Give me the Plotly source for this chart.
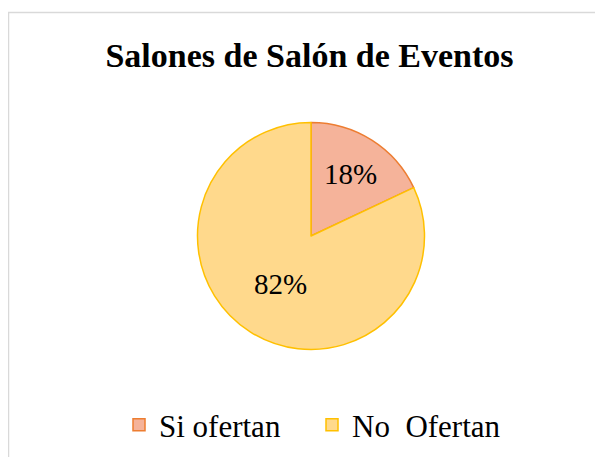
import plotly.graph_objects as go

title_text = "Salones de Salón de Eventos"
categories = ["Si ofertan", "No  Ofertan"]
values = [18, 82]
fill_colors = ["#F5B39A", "#FFD98C"]
line_colors = ["#ED7D31", "#FFC000"]

SERIF = "Times New Roman, Liberation Serif, serif"
W, H = 603, 457
OX, OY = 8, 8  # page offset of the plot div (body margin)
cx, cy, r = 311 - OX, 236 - OY, 113.5


def px(x):
    return (x - OX) / W


def py(y):
    return 1 - (y - OY) / H


fig = go.Figure(go.Pie(
    labels=categories,
    values=values,
    sort=False,
    direction="clockwise",
    rotation=0,
    marker=dict(colors=fill_colors, line=dict(color=line_colors, width=1.5)),
    textinfo="percent",
    texttemplate="%{percent:.0%}",
    textposition="inside",
    insidetextorientation="horizontal",
    textfont=dict(family=SERIF, size=29, color="black"),
    domain=dict(x=[(cx - r) / W, (cx + r) / W], y=[(H - cy - r) / H, (H - cy + r) / H]),
    hoverinfo="label+percent",
))

fig.update_layout(
    width=W, height=H,
    margin=dict(l=0, r=0, t=0, b=0),
    paper_bgcolor="white",
    plot_bgcolor="white",
    font=dict(family=SERIF, color="black"),
    title=dict(text="<b>" + title_text + "</b>", x=px(309.5), xanchor="center",
               y=py(55), yanchor="middle",
               font=dict(family=SERIF, size=34, color="black")),
    legend=dict(orientation="h", x=px(119), xanchor="left", y=py(425), yanchor="middle",
                font=dict(family=SERIF, size=31, color="black"),
                entrywidth=148, entrywidthmode="pixels",
                bgcolor="rgba(0,0,0,0)"),
    shapes=[dict(type="rect", xref="paper", yref="paper",
                 x0=px(8.5), x1=1.2, y0=-0.2, y1=py(12.5),
                 line=dict(color="#D9D9D9", width=1.5), fillcolor="rgba(0,0,0,0)", layer="below")],
)

fig.write_html("out.html")
